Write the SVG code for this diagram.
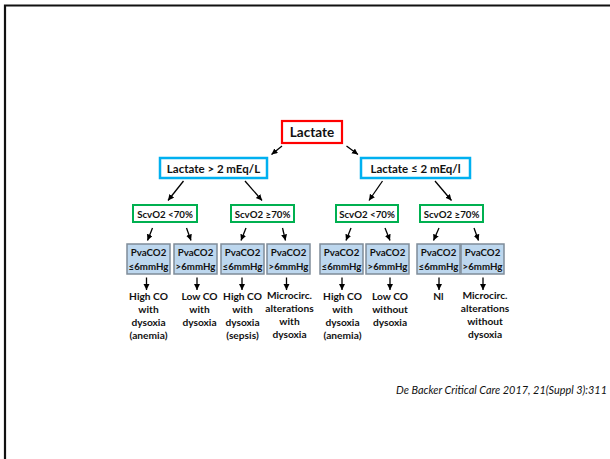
<svg xmlns="http://www.w3.org/2000/svg" width="610" height="459" viewBox="0 0 610 459">
<defs>
<marker id="ah" markerUnits="userSpaceOnUse" markerWidth="8" markerHeight="8" refX="6" refY="3" orient="auto">
<path d="M0,0 L6,3 L0,6 Z" fill="#000"/>
</marker>
<style>
.t{font-family:Lato,"Liberation Sans",sans-serif;font-weight:bold;fill:#111;text-anchor:middle}
.pv{fill:#BDD7EE;stroke:#7F8C99;stroke-width:1.5}
.g{fill:#fff;stroke:#00B050;stroke-width:2}
.b{fill:#fff;stroke:#00B0F0;stroke-width:2.5}
.r{fill:#fff;stroke:#FF0000;stroke-width:2.2}
.c line{stroke:#000;stroke-width:1.3;marker-end:url(#ah)}
.s{font-size:9.7px}
.o{font-size:10.2px}
</style>
</defs>
<rect width="610" height="459" fill="#fff"/>
<path d="M5,459 V5.5 H610" fill="none" stroke="#111" stroke-width="2.2"/>

<g id="lactate"><rect class="r" x="282" y="121" width="60" height="22"/><text class="t" x="312" y="137" font-size="13.5">Lactate</text></g>
<g id="lac-high"><rect class="b" x="160" y="158" width="107" height="20"/><text class="t" x="213.5" y="172.5" font-size="11.5">Lactate &gt; 2 mEq/L</text></g>
<g id="lac-low"><rect class="b" x="361" y="158" width="109" height="20"/><text class="t" x="415.5" y="172.5" font-size="11.5">Lactate ≤ 2 mEq/l</text></g>

<g id="scv1"><rect class="g" x="133" y="205" width="64" height="17"/><text class="t s" x="165" y="217.5">ScvO2 &lt;70%</text></g>
<g id="scv2"><rect class="g" x="231" y="205" width="63" height="17"/><text class="t s" x="262.5" y="217.5">ScvO2 ≥70%</text></g>
<g id="scv3"><rect class="g" x="336" y="205" width="62" height="17"/><text class="t s" x="367" y="217.5">ScvO2 &lt;70%</text></g>
<g id="scv4"><rect class="g" x="420" y="205" width="63" height="17"/><text class="t s" x="451.5" y="217.5">ScvO2 ≥70%</text></g>

<g id="pv1"><rect class="pv" x="127" y="244" width="43" height="30"/><text class="t s" x="148.5" y="256">PvaCO2</text><text class="t s" x="148.5" y="269.5">≤6mmHg</text></g>
<g id="pv2"><rect class="pv" x="174" y="244" width="43" height="30"/><text class="t s" x="195.5" y="256">PvaCO2</text><text class="t s" x="195.5" y="269.5">&gt;6mmHg</text></g>
<g id="pv3"><rect class="pv" x="221" y="244" width="43" height="30"/><text class="t s" x="242.5" y="256">PvaCO2</text><text class="t s" x="242.5" y="269.5">≤6mmHg</text></g>
<g id="pv4"><rect class="pv" x="267" y="244" width="43" height="30"/><text class="t s" x="288.5" y="256">PvaCO2</text><text class="t s" x="288.5" y="269.5">&gt;6mmHg</text></g>
<g id="pv5"><rect class="pv" x="320" y="244" width="43" height="30"/><text class="t s" x="341.5" y="256">PvaCO2</text><text class="t s" x="341.5" y="269.5">≤6mmHg</text></g>
<g id="pv6"><rect class="pv" x="366" y="244" width="43" height="30"/><text class="t s" x="387.5" y="256">PvaCO2</text><text class="t s" x="387.5" y="269.5">&gt;6mmHg</text></g>
<g id="pv7"><rect class="pv" x="417" y="244" width="43" height="30"/><text class="t s" x="438.5" y="256">PvaCO2</text><text class="t s" x="438.5" y="269.5">≤6mmHg</text></g>
<g id="pv8"><rect class="pv" x="461" y="244" width="43" height="30"/><text class="t s" x="482.5" y="256">PvaCO2</text><text class="t s" x="482.5" y="269.5">&gt;6mmHg</text></g>

<g id="out1" class="t o"><text x="148.5" y="300">High CO</text><text x="148.5" y="313">with</text><text x="148.5" y="326">dysoxia</text><text x="148.5" y="339">(anemia)</text></g>
<g id="out2" class="t o"><text x="199.5" y="300">Low CO</text><text x="199.5" y="313">with</text><text x="199.5" y="326">dysoxia</text></g>
<g id="out3" class="t o"><text x="242.5" y="300">High CO</text><text x="242.5" y="313">with</text><text x="242.5" y="326">dysoxia</text><text x="242.5" y="339">(sepsis)</text></g>
<g id="out4" class="t o"><text x="289.5" y="298.5">Microcirc.</text><text x="289.5" y="311.5">alterations</text><text x="289.5" y="324.5">with</text><text x="289.5" y="337.5">dysoxia</text></g>
<g id="out5" class="t o"><text x="342.5" y="300">High CO</text><text x="342.5" y="313">with</text><text x="342.5" y="326">dysoxia</text><text x="342.5" y="339">(anemia)</text></g>
<g id="out6" class="t o"><text x="390" y="300">Low CO</text><text x="390" y="313">without</text><text x="390" y="326">dysoxia</text></g>
<g id="out7" class="t o"><text x="438.5" y="300">Nl</text></g>
<g id="out8" class="t o"><text x="485" y="299">Microcirc.</text><text x="485" y="312">alterations</text><text x="485" y="325">without</text><text x="485" y="338">dysoxia</text></g>

<g id="connectors" class="c">
<line x1="282" y1="146" x2="271.5" y2="154.5"/>
<line x1="346.5" y1="146" x2="358" y2="154.5"/>
<line x1="183.5" y1="181" x2="168" y2="200.5"/>
<line x1="245" y1="181" x2="262" y2="200.5"/>
<line x1="382.5" y1="181" x2="369" y2="200.5"/>
<line x1="435" y1="181" x2="451.5" y2="200.5"/>
<line x1="152.5" y1="228" x2="147.5" y2="240.5"/>
<line x1="186.5" y1="228" x2="191" y2="240.5"/>
<line x1="246" y1="228" x2="241" y2="240.5"/>
<line x1="282.5" y1="228" x2="285.5" y2="240.5"/>
<line x1="351" y1="228" x2="346" y2="240.5"/>
<line x1="385" y1="228" x2="390" y2="240.5"/>
<line x1="439" y1="228" x2="433.5" y2="240.5"/>
<line x1="474" y1="228" x2="478.5" y2="240.5"/>
<line x1="146.5" y1="277.5" x2="146.5" y2="290"/>
<line x1="197" y1="277.5" x2="197" y2="290"/>
<line x1="242" y1="277.5" x2="242" y2="290"/>
<line x1="286.5" y1="277.5" x2="286.5" y2="290"/>
<line x1="342" y1="277.5" x2="342" y2="290"/>
<line x1="390" y1="277.5" x2="390" y2="290"/>
<line x1="439" y1="277.5" x2="439" y2="290"/>
<line x1="483" y1="277.5" x2="483" y2="290"/>
</g>

<text x="607" y="393.5" font-family="Lato,'Liberation Sans',sans-serif" font-style="italic" font-size="10.9px" fill="#111" text-anchor="end">De Backer Critical Care 2017, 21(Suppl 3):311</text>
</svg>
